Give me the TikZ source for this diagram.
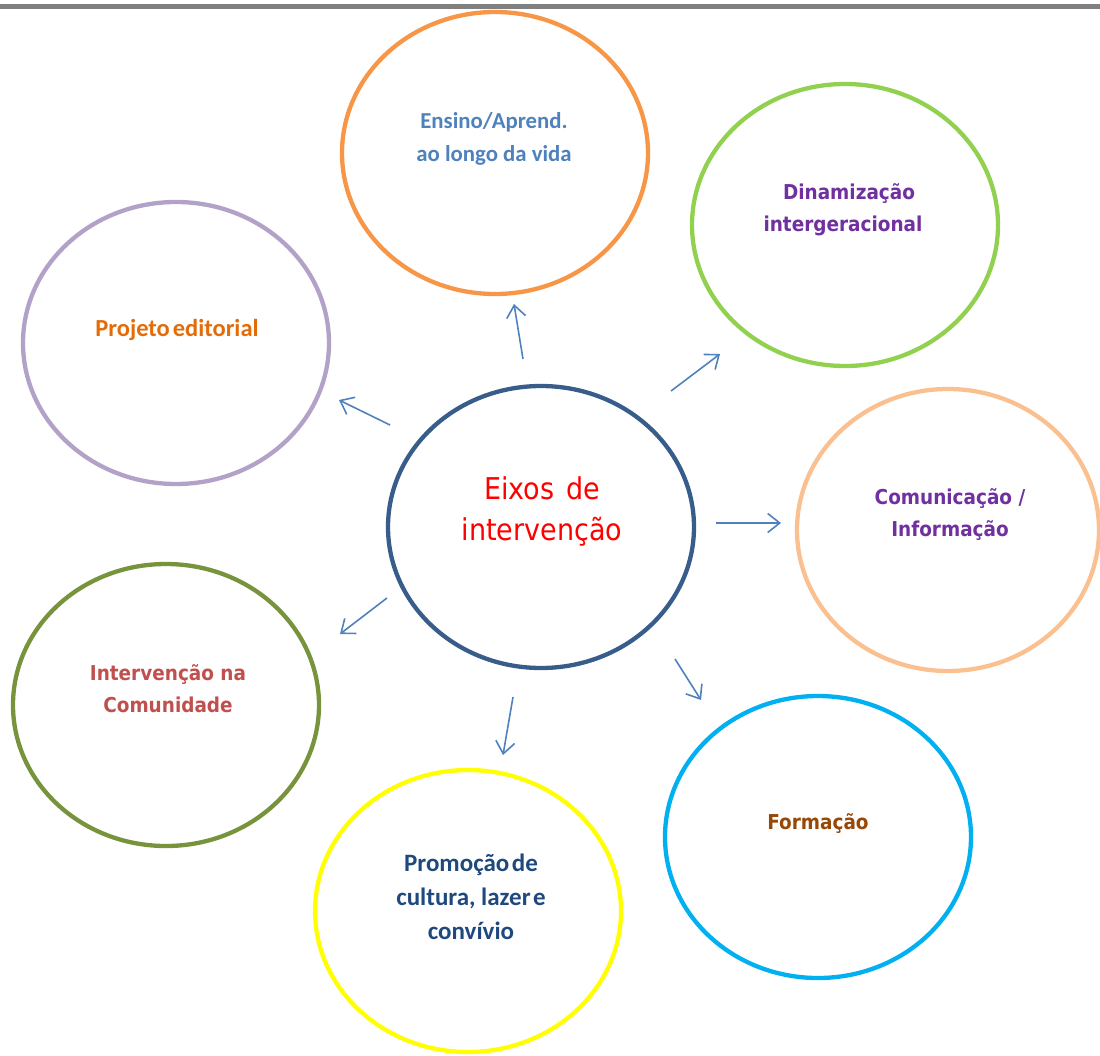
\documentclass[tikz,border=0pt]{standalone}
\usepackage{fontspec}
\setmainfont{Carlito}
\newfontfamily\tahomalike{DejaVu Sans Condensed}
\usetikzlibrary{shapes.geometric,arrows.meta}
\definecolor{rulegray}{HTML}{808080}
\definecolor{cdark}{HTML}{385D8A}
\definecolor{corange}{HTML}{F79646}
\definecolor{cgreen}{HTML}{92D050}
\definecolor{clilac}{HTML}{B3A2C7}
\definecolor{cpeach}{HTML}{FAC090}
\definecolor{colive}{HTML}{77933C}
\definecolor{ccyan}{HTML}{00B0F0}
\definecolor{cyellow}{HTML}{FFFF00}
\definecolor{carrow}{HTML}{4F81BD}
\definecolor{tblue}{HTML}{4F81BD}
\definecolor{tpurple}{HTML}{7030A0}
\definecolor{torange}{HTML}{E36C09}
\definecolor{tred}{HTML}{C0504D}
\definecolor{tbrown}{HTML}{984806}
\definecolor{tnavy}{HTML}{1F497D}
\tikzset{
  ring/.style={ellipse, draw, line width=4.3pt, inner sep=0pt,
    minimum width=306pt, minimum height=282pt},
  calib/.style={font=\fontsize{22.8}{33}\selectfont\bfseries, align=center, inner sep=0pt},
  tah/.style={font=\tahomalike\bfseries\fontsize{20.5}{32}\selectfont, align=center, inner sep=0pt},
  ptr/.style={draw=carrow, line width=1.6pt, -{Straight Barb[length=12pt,width=19pt,line width=1.6pt]}}
}
\begin{document}
\begin{tikzpicture}[x=1pt,y=-1pt]
\useasboundingbox (0,0) rectangle (1100,1055);
\fill[rulegray] (0,4) rectangle (1100,9);
% ellipses
\node[ring, draw=cdark] (c) at (541,527) {};
\node[ring, draw=corange] (ens) at (495,153) {};
\node[ring, draw=cgreen] (din) at (845,225) {};
\node[ring, draw=clilac] (pro) at (176,343) {};
\node[ring, draw=cpeach, minimum width=302pt] (com) at (948,530) {};
\node[ring, draw=colive] (int) at (166,705) {};
\node[ring, draw=ccyan] (for) at (818,837) {};
\node[ring, draw=cyellow] (prm) at (468,911) {};
% texts
\node[tah, text=red, font=\tahomalike\fontsize{30}{41}\selectfont] (tc) at (542,511) {Eixos\hspace{0.4em}de\\intervenção};
\node[calib, text=tblue] (tens) at (494,139) {Ensino/Aprend.\\ao longo da vida};
\node[tah, text=tpurple] (tdin) at (843,210) {\hspace*{12pt}Dinamização\\intergeracional};
\node[calib, text=torange, font=\fontsize{24.5}{33}\selectfont\bfseries] (tpro) at (177,330) {Projeto\hspace{0.12em}editorial};
\node[tah, text=tpurple] (tcom) at (950,515) {Comunicação /\\Informação};
\node[tah, text=tred] (tint) at (168,689) {Intervenção na\\Comunidade};
\node[tah, text=tbrown] (tfor) at (818,824) {Formação};
\node[calib, text=tnavy, font=\fontsize{25}{34}\selectfont\bfseries] (tprm) at (471,897) {Promoção\hspace{0.1em}de\\cultura, lazer\hspace{0.1em}e\\convívio};
% arrows
\coordinate (a1s) at (523,359); \coordinate (a1e) at (514,304);
\coordinate (a2s) at (671,391); \coordinate (a2e) at (720,354);
\coordinate (a3s) at (716,523); \coordinate (a3e) at (781,523);
\coordinate (a4s) at (675,659); \coordinate (a4e) at (701,700);
\coordinate (a5s) at (513,697); \coordinate (a5e) at (503,755);
\coordinate (a6s) at (387,598); \coordinate (a6e) at (340,634);
\coordinate (a7s) at (390,425); \coordinate (a7e) at (339,400);
\draw[ptr] (a1s) -- (a1e);
\draw[ptr] (a2s) -- (a2e);
\draw[ptr] (a3s) -- (a3e);
\draw[ptr] (a4s) -- (a4e);
\draw[ptr] (a5s) -- (a5e);
\draw[ptr] (a6s) -- (a6e);
\draw[ptr] (a7s) -- (a7e);
\end{tikzpicture}
\end{document}
